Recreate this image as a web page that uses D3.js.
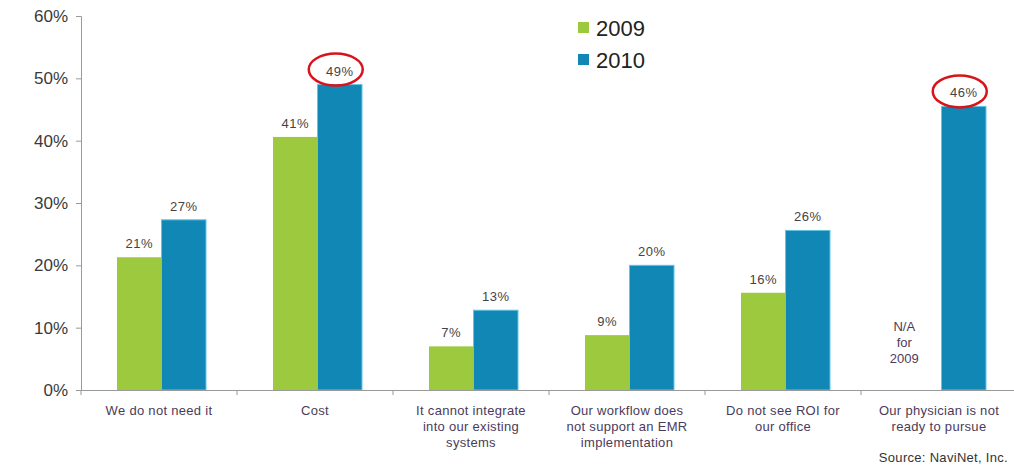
<!DOCTYPE html>
<html>
<head>
<meta charset="utf-8">
<script src="https://cdn.jsdelivr.net/npm/d3@7"></script>
<style>
  body { margin: 0; background: #fff; }
  text { font-family: "Liberation Sans", Arial, sans-serif; }
</style>
</head>
<body>
<svg id="chart" width="1014" height="469"></svg>
<script>
// data (bar heights as drawn, labels are rounded)
var categories = [
  ["We do not need it"],
  ["Cost"],
  ["It cannot integrate", "into our existing", "systems"],
  ["Our workflow does", "not support an EMR", "implementation"],
  ["Do not see ROI  for", "our office"],
  ["Our physician is not", "ready to pursue"]
];
var years = ["2009", "2010"];
var values2009 = [21.3, 40.6, 7.0, 8.8, 15.6, null];
var values2010 = [27.3, 49.0, 12.8, 20.0, 25.6, 45.5];
var yTicks = [0, 10, 20, 30, 40, 50, 60];
var circled = [[1, 1], [5, 1]]; // [category, series] with red ring

var colors = { "2009": "#9dc93e", "2010": "#1187b6" };

var margin = { top: 16, right: -3, bottom: 79, left: 81 };
var width = 1014, height = 469;

var svg = d3.select("#chart");
var g = svg.append("g").attr("transform", "translate(" + margin.left + "," + margin.top + ")");
var w = width - margin.left - margin.right;
var h = height - margin.top - margin.bottom;

var x = d3.scaleBand().domain(d3.range(categories.length)).range([0, w]).paddingInner(0).paddingOuter(0);
var x1 = d3.scaleBand().domain(years).range([36, x.bandwidth() - 31]).padding(0);
var y = d3.scaleLinear().domain([0, 60]).range([h, 0]);

// y axis
var yAxis = d3.axisLeft(y).tickValues(yTicks).tickFormat(d => d + "%").tickSize(5).tickPadding(8);
var ya = g.append("g").call(yAxis);
ya.select(".domain").attr("stroke", "#9a9a9a");
ya.selectAll(".tick line").attr("stroke", "#9a9a9a");
ya.selectAll(".tick text").attr("fill", "#3a3a3a").style("font-size", "17px");

// bars
var rows = [];
categories.forEach(function(c, i) {
  rows.push({ i: i, year: "2009", v: values2009[i] });
  rows.push({ i: i, year: "2010", v: values2010[i] });
});

g.selectAll("rect.bar")
  .data(rows.filter(d => d.v != null))
  .enter().append("rect")
  .attr("class", "bar")
  .attr("x", d => x(d.i) + x1(d.year))
  .attr("width", x1.bandwidth())
  .attr("y", d => y(d.v))
  .attr("height", d => y(0) - y(d.v))
  .attr("fill", d => colors[d.year])
  .attr("stroke", d => d.year == "2010" ? "#62c3e3" : "none")
  .attr("stroke-width", 1);

// value labels
g.selectAll("text.val")
  .data(rows.filter(d => d.v != null))
  .enter().append("text")
  .attr("class", "val")
  .attr("x", d => x(d.i) + x1(d.year) + x1.bandwidth() / 2)
  .attr("y", d => y(d.v) - 9)
  .attr("text-anchor", "middle")
  .attr("fill", "#444")
  .style("font-size", "13px")
  .style("letter-spacing", "0.5px")
  .text(d => Math.round(d.v) + "%");

// red rings
circled.forEach(function(c) {
  var v = (c[1] == 0 ? values2009 : values2010)[c[0]];
  g.append("ellipse")
    .attr("cx", x(c[0]) + x1(years[c[1]]) + x1.bandwidth() / 2 - 4)
    .attr("cy", y(v) - 15)
    .attr("rx", 27)
    .attr("ry", 16)
    .attr("fill", "none")
    .attr("stroke", "#d9131b")
    .attr("stroke-width", 2.5);
});

// N/A note
var naLines = ["N/A", "for", "2009"];
var na = g.append("text")
  .attr("text-anchor", "middle")
  .attr("fill", "#4b3b5a")
  .style("font-size", "13px");
naLines.forEach(function(t, k) {
  na.append("tspan")
    .attr("x", x(5) + x1("2009") + x1.bandwidth() / 2 - 15)
    .attr("y", y(0) - 59 + k * 16)
    .text(t);
});

// x axis
var xAxis = d3.axisBottom(x).tickSize(0).tickFormat("");
var xa = g.append("g").attr("transform", "translate(0," + h + ")").call(xAxis);
xa.select(".domain").attr("stroke", "#9a9a9a");
xa.selectAll(".bnd")
  .data(d3.range(categories.length + 1))
  .enter().append("line")
  .attr("x1", d => d * x.bandwidth()).attr("x2", d => d * x.bandwidth())
  .attr("y1", 0).attr("y2", 5)
  .attr("stroke", "#9a9a9a");

// category labels
categories.forEach(function(lines, i) {
  var t = g.append("text")
    .attr("text-anchor", "middle")
    .attr("fill", "#4b3b5a")
    .style("font-size", "13px")
    .style("letter-spacing", "0.3px");
  lines.forEach(function(s, k) {
    t.append("tspan")
      .attr("x", x(i) + x.bandwidth() / 2)
      .attr("y", h + 25 + k * 16)
      .text(s);
  });
});

// legend
var lg = svg.append("g").attr("transform", "translate(578,22)");
years.forEach(function(yr, k) {
  lg.append("rect").attr("x", 0).attr("y", k * 32).attr("width", 11).attr("height", 11).attr("fill", colors[yr]);
  lg.append("text").attr("x", 18).attr("y", k * 32 + 14)
    .attr("fill", "#222").style("font-size", "22px").text(yr);
});

// source
svg.append("text")
  .attr("x", 1008).attr("y", 462)
  .attr("text-anchor", "end")
  .attr("fill", "#333")
  .style("font-size", "13px")
  .style("letter-spacing", "0.3px")
  .text("Source: NaviNet, Inc.");
</script>
</body>
</html>
